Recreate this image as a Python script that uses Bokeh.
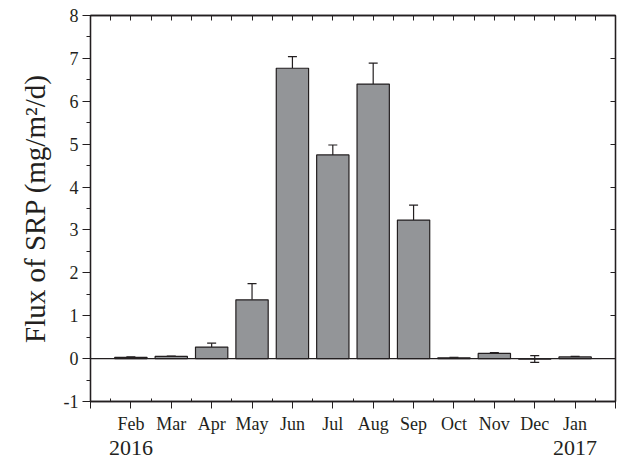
from bokeh.plotting import figure
from bokeh.models import (ColumnDataSource, Whisker, TeeHead, LinearAxis, FixedTicker,
                          Span, Range1d, CustomLabelingPolicy)
from bokeh.embed import file_html
from bokeh.resources import INLINE

months = ["Feb", "Mar", "Apr", "May", "Jun", "Jul", "Aug", "Sep", "Oct", "Nov", "Dec", "Jan"]
flux = [0.03, 0.05, 0.27, 1.37, 6.77, 4.75, 6.40, 3.23, 0.02, 0.12, -0.01, 0.04]
err = [0.01, 0.01, 0.09, 0.38, 0.27, 0.23, 0.49, 0.35, 0.01, 0.02, 0.08, 0.01]
years = ["2016", "2017"]
year_pos = [1, 12]
y_ticks = [-1, 0, 1, 2, 3, 4, 5, 6, 7, 8]

FONT = "Liberation Serif"
INK = "#231f20"

pos = list(range(1, len(months) + 1))

p = figure(width=619, height=462, output_backend="svg", toolbar_location=None,
           x_range=Range1d(0, 13), y_range=Range1d(-1, 8),
           min_border_left=90, min_border_right=4, min_border_top=15, min_border_bottom=61)
p.outline_line_color = INK
p.outline_line_width = 1.3
p.grid.visible = False
p.background_fill_color = "white"

src = ColumnDataSource(dict(x=pos, top=flux, month=months))
p.vbar(x="x", top="top", bottom=0, width=0.8, source=src,
       fill_color="#939598", line_color=INK, line_width=1.2)

# error bars
pos_idx = [i for i, v in enumerate(flux) if v > 0]
neg_idx = [i for i, v in enumerate(flux) if v <= 0]
src_up = ColumnDataSource(dict(base=[pos[i] for i in pos_idx],
                               lower=[flux[i] for i in pos_idx],
                               upper=[flux[i] + err[i] for i in pos_idx]))
src_both = ColumnDataSource(dict(base=[pos[i] for i in neg_idx],
                                 lower=[flux[i] - err[i] for i in neg_idx],
                                 upper=[flux[i] + err[i] for i in neg_idx]))
p.add_layout(Whisker(base="base", lower="lower", upper="upper", source=src_up,
                     line_color=INK, line_width=1.2, lower_head=None,
                     upper_head=TeeHead(size=9, line_color=INK, line_width=1.2)))
p.add_layout(Whisker(base="base", lower="lower", upper="upper", source=src_both,
                     line_color=INK, line_width=1.2,
                     lower_head=TeeHead(size=9, line_color=INK, line_width=1.2),
                     upper_head=TeeHead(size=9, line_color=INK, line_width=1.2)))

p.add_layout(Span(location=0, dimension="width", line_color=INK, line_width=1.2))

# left axis
ya = p.yaxis[0]
ya.ticker = FixedTicker(ticks=y_ticks, minor_ticks=[t + 0.5 for t in y_ticks[:-1]])
ya.major_label_overrides = {t: str(t) for t in y_ticks}
ya.axis_label = "Flux of SRP (mg/m²/d)"
ya.axis_label_text_font = FONT
ya.axis_label_text_font_style = "normal"
ya.axis_label_text_font_size = "29px"
ya.axis_label_text_color = INK
ya.axis_label_standoff = 10
ya.major_label_text_font = FONT
ya.major_label_text_font_size = "18px"
ya.major_label_text_color = INK
ya.major_label_standoff = 4
ya.major_tick_out = 8
ya.major_tick_in = 0
ya.minor_tick_out = 4
ya.minor_tick_in = 0
ya.axis_line_color = INK
ya.axis_line_width = 1.3
ya.major_tick_line_color = INK
ya.minor_tick_line_color = INK

# bottom axis (months)
xa = p.xaxis[0]
xticks = list(range(0, 14))
xa.ticker = FixedTicker(ticks=xticks, minor_ticks=[t + 0.5 for t in xticks[:-1]])
overrides = {t: "" for t in xticks}
for x, m in zip(pos, months):
    overrides[x] = m
xa.major_label_overrides = overrides
xa.major_label_text_font = FONT
xa.major_label_text_font_size = "18px"
xa.major_label_text_color = INK
xa.major_label_standoff = 5
xa.major_tick_out = 7
xa.major_tick_in = 0
xa.minor_tick_out = 0
xa.minor_tick_in = 3
xa.axis_line_color = INK
xa.axis_line_width = 1.3
xa.major_tick_line_color = INK
xa.minor_tick_line_color = INK

# second bottom axis (years)
ysa = LinearAxis(ticker=FixedTicker(ticks=year_pos, minor_ticks=[]),
                 major_label_overrides={x: t for x, t in zip(year_pos, years)},
                 major_label_text_font=FONT, major_label_text_font_size="22px",
                 major_label_text_color=INK, major_label_standoff=4,
                 major_tick_in=0, major_tick_out=0, minor_tick_in=0, minor_tick_out=0,
                 axis_line_color=None, major_tick_line_color=None, minor_tick_line_color=None)
p.add_layout(ysa, "below")

# top axis (ticks inward, no labels)
ta = LinearAxis(ticker=FixedTicker(ticks=xticks, minor_ticks=[t + 0.5 for t in xticks[:-1]]),
                major_label_text_font_size="0px", major_label_standoff=0,
                major_label_policy=CustomLabelingPolicy(code="return []"),
                major_tick_in=5, major_tick_out=0, minor_tick_in=5, minor_tick_out=0,
                axis_line_color=INK, axis_line_width=1.3,
                major_tick_line_color=INK, minor_tick_line_color=INK)
p.add_layout(ta, "above")

# right axis (ticks inward, no labels)
ra = LinearAxis(ticker=FixedTicker(ticks=y_ticks, minor_ticks=[t + 0.5 for t in y_ticks[:-1]]),
                major_label_text_font_size="0px", major_label_standoff=0,
                major_label_policy=CustomLabelingPolicy(code="return []"),
                major_tick_in=5, major_tick_out=0, minor_tick_in=0, minor_tick_out=0,
                axis_line_color=INK, axis_line_width=1.3,
                major_tick_line_color=INK, minor_tick_line_color=INK)
p.add_layout(ra, "right")

open("out.html", "w").write(file_html(p, INLINE))
